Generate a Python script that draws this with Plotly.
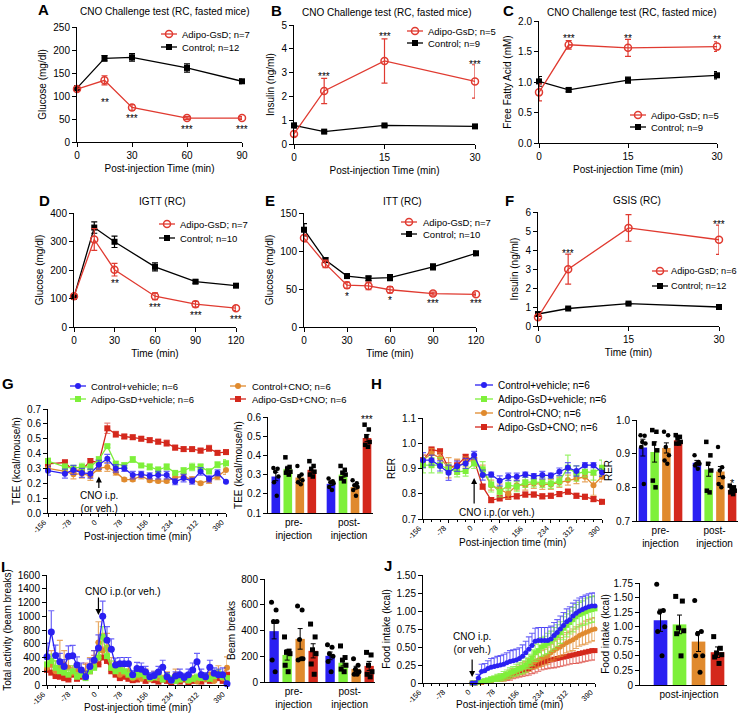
import plotly.graph_objects as go

W, H = 740, 715
FONT = "Liberation Sans, Arial, Helvetica, sans-serif"
PRED = "#e03a30"
C_BLUE = "#2a20f2"
C_GREEN = "#7ef03a"
C_ORANGE = "#e08a2e"
C_RED = "#d4281c"

# ---------------- data ----------------
A_t = [0, 15, 30, 60, 90]
A_gsd = [115, 134, 75, 52, 52]
A_gsd_err = [5, 10, 6, 3, 3]
A_ctl = [117, 182, 184, 161, 132]
A_ctl_err = [5, 6, 8, 9, 5]
A_sig = ["", "**", "***", "***", "***"]
A_sig_y = [0, 93, 57, 34, 34]

B_t = [0, 5, 15, 30]
B_gsd = [0.42, 2.23, 3.49, 2.63]
B_gsd_err = [0.1, 0.53, 0.93, 0.7]
B_ctl = [0.78, 0.52, 0.78, 0.74]
B_ctl_err = [0.1, 0.05, 0.05, 0.05]
B_sig = ["", "***", "***", "***"]
B_sig_y = [0, 2.95, 4.65, 3.46]

C_t = [0, 5, 15, 30]
C_gsd = [0.83, 1.61, 1.56, 1.58]
C_gsd_err = [0.14, 0.07, 0.14, 0.08]
C_ctl = [1.01, 0.87, 1.03, 1.11]
C_ctl_err = [0.08, 0.03, 0.05, 0.06]
C_sig = ["", "***", "**", "**"]
C_sig_y = [0, 1.77, 1.77, 1.74]

D_t = [0, 15, 30, 60, 90, 120]
D_gsd = [108, 307, 201, 108, 80, 66]
D_gsd_err = [8, 38, 22, 12, 10, 8]
D_ctl = [106, 349, 299, 211, 159, 145]
D_ctl_err = [6, 20, 20, 14, 6, 6]
D_sig = ["", "", "**", "***", "***", "***"]
D_sig_y = [0, 0, 162, 79, 51, 38]

E_t = [0, 15, 30, 45, 60, 90, 120]
E_gsd = [117, 83, 55, 54, 49, 44, 43]
E_gsd_err = [5, 5, 4, 5, 4, 2, 2]
E_ctl = [128, 88, 67, 64, 65, 79, 97]
E_ctl_err = [8, 3, 3, 3, 4, 4, 3]
E_sig = ["", "", "*", "", "*", "***", "***"]
E_sig_y = [0, 0, 44, 0, 39, 35, 35]

F_t = [0, 5, 15, 30]
F_gsd = [0.46, 2.99, 5.16, 4.54]
F_gsd_err = [0.1, 0.79, 0.7, 0.77]
F_ctl = [0.63, 0.92, 1.18, 1.0]
F_ctl_err = [0.04, 0.04, 0.04, 0.04]
F_sig = ["", "***", "***", "***"]
F_sig_y = [0, 3.98, 6.04, 5.5]

GROUPS = ["Control+vehicle; n=6", "Adipo-GsD+vehicle; n=6", "Control+CNO; n=6", "Adipo-GsD+CNO; n=6"]

# G: TEE time course
G_t = [-156, -104, -78, -52, -26, 0, 26, 52, 78, 104, 130, 156, 182, 208, 234, 260, 286, 312, 338, 364, 390]
G_blue = [0.285, 0.265, 0.29, 0.27, 0.265, 0.325, 0.365, 0.30, 0.30, 0.255, 0.26, 0.25, 0.255, 0.255, 0.21, 0.235, 0.215, 0.28, 0.23, 0.27, 0.21]
G_green = [0.35, 0.31, 0.30, 0.31, 0.31, 0.36, 0.45, 0.33, 0.32, 0.36, 0.32, 0.31, 0.29, 0.31, 0.27, 0.285, 0.31, 0.31, 0.28, 0.325, 0.335]
G_orange = [0.30, 0.28, 0.26, 0.265, 0.25, 0.30, 0.31, 0.275, 0.225, 0.225, 0.25, 0.22, 0.215, 0.215, 0.24, 0.245, 0.225, 0.20, 0.22, 0.245, 0.29]
G_red = [0.33, 0.34, 0.285, 0.29, 0.35, 0.34, 0.57, 0.53, 0.515, 0.51, 0.50, 0.49, 0.48, 0.47, 0.44, 0.43, 0.43, 0.42, 0.435, 0.405, 0.41]
G_blue_err = [0.03, 0.03, 0.03, 0.03, 0.03, 0.03, 0.03, 0.025, 0.02, 0.025, 0.02, 0.02, 0.025, 0.025, 0.02, 0.025, 0.02, 0.025, 0.02, 0.02, 0.005]
G_green_err = [0.02, 0.02, 0.02, 0.025, 0.02, 0.02, 0.01, 0.02, 0.02, 0.02, 0.01, 0.02, 0.02, 0.02, 0.01, 0.02, 0.025, 0.02, 0.015, 0.02, 0.025]
G_orange_err = [0.02, 0.02, 0.03, 0.03, 0.03, 0.02, 0.03, 0.02, 0.01, 0.01, 0.02, 0.01, 0.01, 0.01, 0.02, 0.02, 0.02, 0.01, 0.02, 0.02, 0.03]
G_red_err = [0.02, 0.02, 0.02, 0.02, 0.015, 0.02, 0.035, 0.02, 0.015, 0.015, 0.015, 0.015, 0.015, 0.02, 0.015, 0.015, 0.012, 0.015, 0.02, 0.015, 0.015]

# G: TEE bars (pre, post) and individual mice
G_bar_pre = [0.29, 0.33, 0.285, 0.325]
G_bar_post = [0.252, 0.30, 0.235, 0.49]
G_bar_pre_err = [0.022, 0.013, 0.014, 0.012]
G_bar_post_err = [0.009, 0.013, 0.011, 0.018]
G_dots_pre = [[0.335, 0.33, 0.315, 0.29, 0.26, 0.19], [0.39, 0.34, 0.33, 0.315, 0.31, 0.30],
              [0.345, 0.30, 0.29, 0.27, 0.26, 0.25], [0.37, 0.345, 0.33, 0.315, 0.30, 0.29]]
G_dots_post = [[0.28, 0.265, 0.26, 0.255, 0.235, 0.22], [0.345, 0.325, 0.31, 0.30, 0.28, 0.265],
               [0.27, 0.255, 0.245, 0.235, 0.22, 0.19], [0.56, 0.535, 0.50, 0.47, 0.455, 0.445]]

# H: RER time course
H_t = [-156, -130, -104, -78, -52, -26, 0, 26, 52, 78, 104, 130, 156, 182, 208, 234, 260, 286, 312, 338, 364, 390]
H_blue = [0.933, 0.933, 0.91, 0.883, 0.909, 0.92, 0.953, 0.874, 0.876, 0.851, 0.867, 0.867, 0.876, 0.87, 0.874, 0.872, 0.887, 0.903, 0.89, 0.913, 0.913, 0.884]
H_green = [0.913, 0.913, 0.913, 0.897, 0.887, 0.89, 0.92, 0.897, 0.837, 0.808, 0.834, 0.828, 0.845, 0.847, 0.845, 0.841, 0.85, 0.903, 0.88, 0.887, 0.884, 0.903]
H_orange = [0.933, 0.959, 0.942, 0.903, 0.907, 0.926, 0.933, 0.893, 0.834, 0.818, 0.801, 0.834, 0.834, 0.841, 0.837, 0.837, 0.845, 0.854, 0.86, 0.867, 0.834, 0.867]
H_red = [0.933, 0.975, 0.968, 0.903, 0.913, 0.946, 0.933, 0.828, 0.775, 0.782, 0.788, 0.79, 0.797, 0.797, 0.79, 0.792, 0.799, 0.808, 0.792, 0.788, 0.779, 0.768]
H_blue_err = [0.03, 0.02, 0.02, 0.03, 0.02, 0.02, 0.015, 0.02, 0.01, 0.02, 0.015, 0.015, 0.01, 0.01, 0.015, 0.01, 0.015, 0.02, 0.02, 0.01, 0.01, 0.015]
H_green_err = [0.03, 0.03, 0.03, 0.02, 0.02, 0.02, 0.02, 0.03, 0.03, 0.02, 0.02, 0.02, 0.02, 0.02, 0.02, 0.02, 0.02, 0.05, 0.03, 0.02, 0.03, 0.03]
H_orange_err = [0.02, 0.02, 0.02, 0.04, 0.03, 0.02, 0.02, 0.02, 0.02, 0.02, 0.02, 0.02, 0.02, 0.02, 0.02, 0.02, 0.02, 0.02, 0.02, 0.02, 0.04, 0.02]
H_red_err = [0.02, 0.01, 0.01, 0.02, 0.02, 0.01, 0.01, 0.01, 0.01, 0.01, 0.01, 0.01, 0.01, 0.01, 0.01, 0.01, 0.01, 0.01, 0.01, 0.01, 0.01, 0.01]

H_bar_pre = [0.918, 0.905, 0.917, 0.94]
H_bar_post = [0.873, 0.853, 0.847, 0.793]
H_bar_pre_err = [0.025, 0.03, 0.015, 0.008]
H_bar_post_err = [0.007, 0.02, 0.015, 0.008]
H_dots_pre = [[0.955, 0.953, 0.935, 0.93, 0.92, 0.81], [0.97, 0.965, 0.93, 0.91, 0.82, 0.80],
              [0.965, 0.955, 0.92, 0.895, 0.88, 0.87], [0.955, 0.95, 0.945, 0.935, 0.93, 0.93]]
H_dots_post = [[0.895, 0.875, 0.87, 0.87, 0.865, 0.855], [0.935, 0.895, 0.87, 0.85, 0.79, 0.785],
               [0.92, 0.86, 0.85, 0.83, 0.81, 0.80], [0.805, 0.80, 0.795, 0.79, 0.785, 0.78]]

# I: activity time course
I_t = [-156, -143, -130, -117, -104, -91, -78, -65, -52, -39, -26, -13, 0, 13, 26, 39, 52, 65, 78, 91, 104,
       117, 130, 143, 156, 169, 182, 195, 208, 221, 234, 247, 260, 273, 286, 299, 312, 325, 338, 351, 364, 377, 390]
I_blue = [410, 770, 430, 340, 270, 420, 425, 290, 220, 120, 270, 360, 540, 1000, 650, 520, 290, 310, 310, 310, 150,
          240, 230, 190, 120, 140, 190, 260, 120, 70, 130, 150, 110, 150, 220, 340, 150, 120, 260, 170, 150, 150, 20]
I_green = [300, 350, 250, 200, 180, 150, 200, 120, 150, 100, 200, 250, 400, 700, 420, 250, 200, 230, 200, 150, 120,
           150, 160, 130, 100, 110, 150, 80, 120, 90, 60, 80, 100, 70, 90, 110, 100, 120, 90, 130, 160, 120, 100]
I_orange = [250, 300, 200, 250, 300, 250, 180, 200, 150, 180, 250, 300, 620, 500, 550, 250, 220, 150, 180, 200, 100,
            120, 90, 150, 80, 130, 100, 90, 120, 60, 150, 80, 100, 60, 90, 50, 100, 80, 150, 60, 180, 100, 250]
I_red = [220, 180, 130, 120, 100, 80, 150, 90, 120, 170, 200, 280, 300, 400, 350, 200, 150, 100, 120, 90, 70,
         80, 100, 60, 90, 70, 50, 80, 60, 40, 70, 50, 80, 40, 60, 70, 50, 90, 60, 80, 100, 60, 150]
I_blue_err = [200, 310, 150, 120, 100, 150, 150, 120, 100, 80, 110, 140, 190, 220, 200, 150, 100, 90, 90, 90, 60,
              90, 90, 80, 60, 60, 80, 100, 60, 40, 60, 80, 60, 80, 100, 120, 80, 60, 100, 80, 80, 100, 20]
I_green_err = [120, 100, 100, 80, 80, 70, 80, 60, 70, 50, 80, 100, 150, 150, 150, 100, 90, 90, 80, 70, 60,
               60, 60, 50, 50, 50, 60, 40, 50, 40, 30, 40, 40, 30, 40, 50, 40, 50, 40, 50, 60, 50, 40]
I_orange_err = [150, 200, 150, 400, 200, 150, 100, 120, 100, 120, 150, 200, 300, 250, 200, 150, 120, 100, 100, 120, 60,
                80, 60, 80, 50, 70, 60, 50, 70, 40, 80, 50, 60, 40, 50, 30, 60, 50, 80, 40, 100, 60, 160]
I_red_err = [100, 80, 60, 60, 50, 40, 100, 50, 60, 150, 100, 150, 200, 150, 150, 100, 80, 60, 60, 50, 40,
             40, 50, 30, 50, 40, 30, 40, 30, 20, 40, 30, 40, 20, 30, 40, 30, 40, 30, 40, 50, 30, 60]

I_bar_pre = [395, 210, 335, 242]
I_bar_post = [203, 150, 102, 125]
I_bar_pre_err = [60, 40, 80, 55]
I_bar_post_err = [30, 25, 20, 35]
I_dots_pre = [[620, 560, 470, 470, 170, 80], [350, 240, 230, 220, 130, 80],
              [590, 560, 330, 180, 170, 180], [450, 350, 250, 220, 140, 60]]
I_dots_post = [[290, 270, 220, 200, 160, 80], [280, 190, 170, 130, 100, 80],
               [180, 130, 100, 80, 60, 60], [230, 210, 130, 80, 60, 40]]

# J: cumulative food intake
J_t = [0, 10, 20, 30, 40, 50, 60, 70, 80, 90, 100, 110, 120, 130, 140, 150, 160, 170, 180, 190,
       200, 210, 220, 230, 240, 250, 260, 270, 280, 290, 300, 310, 320, 330, 340, 350, 360, 370, 380, 390]
J_blue = [0, 0, 0.07, 0.16, 0.17, 0.2, 0.22, 0.23, 0.24, 0.25, 0.26, 0.28, 0.3, 0.31, 0.32, 0.34, 0.37, 0.42, 0.47, 0.52,
          0.58, 0.59, 0.59, 0.59, 0.59, 0.61, 0.66, 0.7, 0.75, 0.8, 0.85, 0.88, 0.93, 0.97, 1.0, 1.02, 1.04, 1.06, 1.07, 1.07]
J_green = [0, 0, 0.01, 0.02, 0.03, 0.04, 0.05, 0.06, 0.07, 0.08, 0.1, 0.12, 0.14, 0.16, 0.18, 0.2, 0.22, 0.25, 0.3, 0.35,
           0.42, 0.45, 0.5, 0.52, 0.55, 0.58, 0.62, 0.66, 0.7, 0.76, 0.8, 0.84, 0.88, 0.92, 0.95, 0.97, 0.99, 1.01, 1.02, 1.03]
J_orange = [0, 0, 0.01, 0.01, 0.02, 0.03, 0.04, 0.05, 0.06, 0.07, 0.08, 0.1, 0.12, 0.14, 0.16, 0.18, 0.2, 0.22, 0.25, 0.28,
            0.3, 0.32, 0.34, 0.36, 0.38, 0.42, 0.45, 0.48, 0.5, 0.53, 0.56, 0.58, 0.6, 0.63, 0.66, 0.68, 0.7, 0.72, 0.74, 0.75]
J_red = [0, 0, 0.01, 0.01, 0.02, 0.03, 0.04, 0.05, 0.06, 0.07, 0.08, 0.09, 0.1, 0.12, 0.14, 0.15, 0.17, 0.18, 0.2, 0.22,
         0.24, 0.26, 0.28, 0.3, 0.31, 0.32, 0.33, 0.34, 0.35, 0.36, 0.37, 0.38, 0.39, 0.4, 0.41, 0.42, 0.43, 0.44, 0.45, 0.45]
J_blue_err = [0, 0.02, 0.05, 0.1, 0.1, 0.11, 0.12, 0.12, 0.13, 0.13, 0.14, 0.14, 0.15, 0.15, 0.15, 0.15, 0.16, 0.16, 0.17, 0.17,
              0.18, 0.18, 0.18, 0.18, 0.18, 0.18, 0.18, 0.18, 0.18, 0.18, 0.18, 0.18, 0.18, 0.18, 0.18, 0.18, 0.18, 0.18, 0.18, 0.18]
J_green_err = [0, 0, 0.01, 0.02, 0.03, 0.03, 0.04, 0.04, 0.05, 0.05, 0.06, 0.06, 0.07, 0.07, 0.08, 0.08, 0.09, 0.1, 0.1, 0.11,
               0.12, 0.12, 0.13, 0.13, 0.14, 0.14, 0.15, 0.15, 0.15, 0.16, 0.16, 0.16, 0.17, 0.17, 0.17, 0.17, 0.18, 0.18, 0.18, 0.18]
J_orange_err = [0, 0, 0.01, 0.01, 0.02, 0.02, 0.03, 0.03, 0.04, 0.04, 0.05, 0.05, 0.06, 0.06, 0.07, 0.07, 0.08, 0.08, 0.09, 0.09,
                0.1, 0.1, 0.11, 0.11, 0.12, 0.12, 0.13, 0.13, 0.13, 0.14, 0.14, 0.14, 0.15, 0.15, 0.15, 0.15, 0.16, 0.16, 0.16, 0.16]
J_red_err = [0, 0, 0.01, 0.01, 0.02, 0.02, 0.03, 0.03, 0.04, 0.04, 0.05, 0.05, 0.06, 0.06, 0.07, 0.07, 0.08, 0.08, 0.09, 0.09,
             0.1, 0.1, 0.1, 0.11, 0.11, 0.11, 0.12, 0.12, 0.12, 0.12, 0.12, 0.12, 0.12, 0.13, 0.13, 0.13, 0.13, 0.13, 0.13, 0.13]

J_bar = [1.11, 1.04, 0.745, 0.563]
J_bar_err = [0.19, 0.16, 0.17, 0.09]
J_dots = [[1.73, 1.28, 1.25, 1.0, 0.92, 0.5], [1.52, 1.44, 0.98, 0.93, 0.88, 0.5],
          [1.45, 0.92, 0.88, 0.5, 0.5, 0.22], [0.83, 0.63, 0.55, 0.52, 0.48, 0.37]]

TIME_TICKS = [-156, -78, 0, 78, 156, 234, 312, 390]

# ---------------- layout helpers ----------------
BOXES = {1: (77, 242, 27, 142), 2: (294, 475, 25, 144), 3: (539, 717, 21, 143),
         4: (74, 236, 213, 327), 5: (304, 476, 213, 327), 6: (538, 719, 212, 326),
         7: (48, 226, 409, 513), 8: (268, 373, 417, 513), 9: (423, 602, 418, 519), 10: (637, 738, 420, 521),
         11: (47, 227, 575, 685), 12: (265, 375, 579, 682), 13: (423, 595, 575, 683), 14: (640, 727, 583, 685)}

fig = go.Figure()
layout = {}
annotations = []
PX = 15  # pixel overlay axis index
TS = 10  # tick font size
TT = 10  # axis title font size


def sfx(i):
    return "" if i == 1 else str(i)


def axstyle(tsize=TS):
    return dict(showline=True, linecolor="black", linewidth=1, ticks="outside", ticklen=4, tickwidth=1,
                tickcolor="black", showgrid=False, zeroline=False, automargin=False,
                tickfont=dict(size=tsize, color="black", family=FONT),
                title_font=dict(size=TT, color="black", family=FONT))


def setup(i, xr, yr, xkw, ykw):
    x0, x1, yt, yb = BOXES[i]
    xa = axstyle()
    xa.update(domain=[x0 / W, x1 / W], range=xr, anchor="y" + sfx(i))
    xa.update(xkw)
    ya = axstyle()
    ya.update(domain=[1 - yb / H, 1 - yt / H], range=yr, anchor="x" + sfx(i), title_standoff=4)
    ya.update(ykw)
    layout["xaxis" + sfx(i)] = xa
    layout["yaxis" + sfx(i)] = ya


def series(i, x, y, err, color, symbol, size, errcolor=None, lw=1.3, mode="both", ethick=1.2, ewidth=3):
    e = dict(type="data", array=err, color=errcolor or color, thickness=ethick, width=ewidth, visible=True)
    if mode == "plus":
        e.update(symmetric=False, arrayminus=[0] * len(err))
    elif mode == "minus":
        e.update(symmetric=False, array=[0] * len(err), arrayminus=err)
    fig.add_trace(go.Scatter(x=x, y=y, mode="lines+markers", xaxis="x" + sfx(i), yaxis="y" + sfx(i),
                             line=dict(color=color, width=lw),
                             marker=dict(symbol=symbol, size=size, color=color,
                                         line=dict(color=color, width=1.5 if "open" in symbol else 0)),
                             error_y=e, cliponaxis=False, showlegend=False, hoverinfo="skip"))


def stars(i, x, labels, ys):
    for xx, lab, yy in zip(x, labels, ys):
        if lab:
            annotations.append(dict(xref="x" + sfx(i), yref="y" + sfx(i), x=xx, y=yy, text=lab, showarrow=False,
                                    font=dict(size=10, color="black", family=FONT), yshift=-3))


def ptext(x, y, text, size=10, xanchor="center", bold=False, yanchor="middle"):
    annotations.append(dict(xref="x%d" % PX, yref="y%d" % PX, x=x, y=y, text=("<b>%s</b>" % text) if bold else text,
                            showarrow=False, xanchor=xanchor, yanchor=yanchor,
                            font=dict(size=size, color="black", family=FONT)))


def legend_item(x, y, text, color, symbol, msize=7, tsize=10, half=9, tx=None):
    fig.add_trace(go.Scatter(x=[x - half, x + half], y=[y, y], mode="lines", xaxis="x%d" % PX, yaxis="y%d" % PX,
                             line=dict(color=color, width=1.3), showlegend=False, hoverinfo="skip",
                             cliponaxis=False))
    fig.add_trace(go.Scatter(x=[x], y=[y], mode="markers", xaxis="x%d" % PX, yaxis="y%d" % PX,
                             marker=dict(symbol=symbol, size=msize, color=color,
                                         line=dict(color=color, width=1.5 if "open" in symbol else 0)),
                             showlegend=False, hoverinfo="skip", cliponaxis=False))
    ptext(tx if tx is not None else x + half + 3, y, text, size=tsize, xanchor="left")


# ---------------- panels A-F ----------------
def simple_panel(i, t, gsd, gsd_err, ctl, ctl_err, sig, sig_y, xr, yr, xt, yt, xtitle, ytitle, yfmt=None):
    ykw = dict(tickvals=yt, title_text=ytitle)
    if yfmt:
        ykw["tickformat"] = yfmt
    setup(i, xr, yr, dict(tickvals=xt, title_text=xtitle, title_standoff=4), ykw)
    series(i, t, ctl, ctl_err, "black", "square", 6)
    series(i, t, gsd, gsd_err, PRED, "circle-open", 7)
    stars(i, t, sig, sig_y)


TITLE_CNO = "CNO Challenge test (RC, fasted mice)"
simple_panel(1, A_t, A_gsd, A_gsd_err, A_ctl, A_ctl_err, A_sig, A_sig_y, [0, 90], [0, 250],
             [0, 30, 60, 90], [0, 50, 100, 150, 200, 250], "Post-injection Time (min)", "Glucose (mg/dl)")
simple_panel(2, B_t, B_gsd, B_gsd_err, B_ctl, B_ctl_err, B_sig, B_sig_y, [0, 30], [0, 5],
             [0, 15, 30], [0, 1, 2, 3, 4, 5], "Post-injection Time (min)", "Insulin (ng/ml)")
simple_panel(3, C_t, C_gsd, C_gsd_err, C_ctl, C_ctl_err, C_sig, C_sig_y, [0, 30], [0, 2],
             [0, 15, 30], [0, 0.5, 1.0, 1.5, 2.0], "Post-injection Time (min)", "Free Fatty Acid (mM)", ".1f")
simple_panel(4, D_t, D_gsd, D_gsd_err, D_ctl, D_ctl_err, D_sig, D_sig_y, [0, 120], [0, 400],
             [0, 30, 60, 90, 120], [0, 100, 200, 300, 400], "Time (min)", "Glucose (mg/dl)")
simple_panel(5, E_t, E_gsd, E_gsd_err, E_ctl, E_ctl_err, E_sig, E_sig_y, [0, 120], [0, 150],
             [0, 30, 60, 90, 120], [0, 50, 100, 150], "Time (min)", "Glucose (mg/dl)")
simple_panel(6, F_t, F_gsd, F_gsd_err, F_ctl, F_ctl_err, F_sig, F_sig_y, [0, 30], [0, 6],
             [0, 15, 30], [0, 1, 2, 3, 4, 5, 6], "Time (min)", "Insulin (ng/ml)")

ptext(165, 11, TITLE_CNO, size=10)
ptext(387, 12, TITLE_CNO, size=10)
ptext(632, 12, TITLE_CNO, size=10)
ptext(162, 201, "IGTT (RC)", size=10)
ptext(402, 201, "ITT (RC)", size=10)
ptext(637, 200, "GSIS (RC)", size=10)

for (lx, ly, tx, t1, t2, dy, fs) in [(169, 34, 180, "Adipo-GsD; n=7", "Control; n=12", 13, 9.5),
                                     (415, 31, 426, "Adipo-GsD; n=5", "Control; n=9", 12, 9.5),
                                     (638, 115, 649, "Adipo-GsD; n=5", "Control; n=9", 12, 9.5),
                                     (167, 224, 178, "Adipo-GsD; n=7", "Control; n=10", 14, 9.5),
                                     (409, 222, 421, "Adipo-GsD; n=7", "Control; n=10", 12, 9.5),
                                     (660, 271, 669, "Adipo-GsD; n=6", "Control; n=12", 15, 9.2)]:
    legend_item(lx, ly, t1, PRED, "circle-open", 7, fs, 8, tx)
    legend_item(lx, ly + dy, t2, "black", "square", 6, fs, 8, tx)

# ---------------- time-course panels ----------------
COLORS = [C_BLUE, C_GREEN, C_ORANGE, C_RED]
SYMS = ["circle", "square", "circle", "square"]
ERRC = ["rgba(60,50,245,0.75)", "rgba(130,240,70,0.8)", "rgba(225,140,50,0.75)", "rgba(215,50,40,0.6)"]
DRAW_ORDER = [3, 2, 1, 0]


def time_axes(i, yr, yt, yfmt, ytitle, title_y, ttext=None):
    ykw = dict(tickvals=yt, tickformat=yfmt, title_text=ytitle)
    if ttext:
        ykw["ticktext"] = ttext
    setup(i, [-156, 390], yr,
          dict(tickvals=TIME_TICKS, showticklabels=False, ticklen=3,
               minor=dict(tickvals=list(range(-156, 391, 26)), ticks="outside", ticklen=2, tickcolor="black")),
          ykw)
    x0, x1, _, yb = BOXES[i]
    # angled tick labels, ending at their tick
    for v in TIME_TICKS:
        annotations.append(dict(xref="x" + sfx(i), yref="y%d" % PX, x=v, y=yb + 2, text=str(v), textangle=-45,
                                showarrow=False, xanchor="right", yanchor="top", xshift=3,
                                font=dict(size=7.5, color="black", family=FONT)))
    ptext((x0 + x1) / 2, title_y, "Post-injection time (min)", size=10)


time_axes(7, [0, 0.7], [0, 0.1, 0.2, 0.3, 0.4, 0.5, 0.6, 0.7], ".1f", "TEE (kcal/mouse/h)", 536)
for k, (yv, ev) in zip(DRAW_ORDER, [(G_red, G_red_err), (G_orange, G_orange_err), (G_green, G_green_err), (G_blue, G_blue_err)]):
    series(7, G_t, yv, ev, COLORS[k], SYMS[k], 6, ERRC[k], lw=1.3, ethick=1.2, ewidth=3)

time_axes(9, [0.7, 1.1], [0.7, 0.8, 0.9, 1.0, 1.1], ".1f", "RER", 542)
for k, (yv, ev) in zip(DRAW_ORDER, [(H_red, H_red_err), (H_orange, H_orange_err), (H_green, H_green_err), (H_blue, H_blue_err)]):
    series(9, H_t, yv, ev, COLORS[k], SYMS[k], 6, ERRC[k], lw=1.3, ethick=1.2, ewidth=3)

time_axes(11, [0, 1600], list(range(0, 1601, 200)), "d", "Total activity (beam breaks)", 707)
for k, (yv, ev) in zip(DRAW_ORDER, [(I_red, I_red_err), (I_orange, I_orange_err), (I_green, I_green_err), (I_blue, I_blue_err)]):
    series(11, I_t, yv, ev, COLORS[k], SYMS[k], 6 if k else 7, ERRC[k], lw=1.3, mode="plus", ethick=1.2, ewidth=3)

time_axes(13, [0, 1.5], [0, 0.25, 0.5, 0.75, 1.0, 1.25, 1.5], ".2f", "Food intake (kcal)", 704,
          ["0", "0.25", "0.50", "0.75", "1.00", "1.25", "1.50"])
J_modes = ["plus", "both", "both", "minus"]
for k, (yv, ev) in zip(DRAW_ORDER, [(J_red, J_red_err), (J_orange, J_orange_err), (J_green, J_green_err), (J_blue, J_blue_err)]):
    series(13, J_t, yv, ev, COLORS[k], SYMS[k], 5, ERRC[k], lw=1.3, mode=J_modes[k], ethick=1.1, ewidth=3)

# ---------------- bar panels ----------------
JIT = [-0.2, 0.15, -0.05, 0.22, -0.15, 0.08]


def bar_panel(i, pos_groups, means_groups, err_groups, dots_groups, msize=5):
    for k in range(4):
        xs = [pg[k] for pg in pos_groups]
        ys = [mg[k] for mg in means_groups]
        es = [eg[k] for eg in err_groups]
        fig.add_trace(go.Bar(x=xs, y=ys, width=0.72, marker=dict(color=COLORS[k], line=dict(width=0)),
                             error_y=dict(type="data", array=es, color="black", thickness=1, width=2.5),
                             xaxis="x" + sfx(i), yaxis="y" + sfx(i), showlegend=False, hoverinfo="skip"))
        for pg, dg in zip(pos_groups, dots_groups):
            fig.add_trace(go.Scatter(x=[pg[k] + JIT[j % 6] for j in range(len(dg[k]))], y=dg[k], mode="markers",
                                     marker=dict(symbol=SYMS[k], size=msize, color="black"),
                                     xaxis="x" + sfx(i), yaxis="y" + sfx(i), showlegend=False, hoverinfo="skip",
                                     cliponaxis=False))


POS_PRE = [1, 2, 3, 4]
POS_POST = [5.6, 6.6, 7.6, 8.6]
GROUP_TXT = ["pre-<br>injection", "post-<br>injection"]
XBAR = dict(ticks="", tickfont=dict(size=10, color="black", family=FONT))

setup(8, [0.35, 9.1], [0.1, 0.6], dict(tickvals=[2.5, 7.1], ticktext=GROUP_TXT, **XBAR),
      dict(tickvals=[0.1, 0.2, 0.3, 0.4, 0.5, 0.6], tickformat=".1f", title_text="TEE (kcal/mouse/h)",
           title_standoff=2))
bar_panel(8, [POS_PRE, POS_POST], [G_bar_pre, G_bar_post], [G_bar_pre_err, G_bar_post_err], [G_dots_pre, G_dots_post], 4.5)
annotations.append(dict(xref="x8", yref="y8", x=POS_POST[3], y=0.6, text="***", showarrow=False,
                        font=dict(size=10, family=FONT, color="black"), yshift=-3))

setup(10, [0.5, 9.1], [0.7, 1.0], dict(tickvals=[2.5, 7.1], ticktext=GROUP_TXT, **XBAR),
      dict(tickvals=[0.7, 0.8, 0.9, 1.0], tickformat=".1f", title_text="RER", title_standoff=1))
bar_panel(10, [POS_PRE, POS_POST], [H_bar_pre, H_bar_post], [H_bar_pre_err, H_bar_post_err], [H_dots_pre, H_dots_post], 4.5)
annotations.append(dict(xref="x10", yref="y10", x=POS_POST[3], y=0.823, text="*", showarrow=False,
                        font=dict(size=11, family=FONT, color="black"), yshift=-3))

POS_POST_I = [5.3, 6.3, 7.3, 8.3]
setup(12, [0.3, 8.75], [0, 800], dict(tickvals=[2.5, 6.8], ticktext=GROUP_TXT, **XBAR),
      dict(tickvals=[0, 200, 400, 600, 800], title_text="Beam breaks", title_standoff=3))
bar_panel(12, [POS_PRE, POS_POST_I], [I_bar_pre, I_bar_post], [I_bar_pre_err, I_bar_post_err], [I_dots_pre, I_dots_post], 5)

setup(14, [-0.08, 4.5], [0, 1.75], dict(tickvals=[2.5], ticktext=["post-injection"], **XBAR),
      dict(tickvals=[0, 0.25, 0.5, 0.75, 1.0, 1.25, 1.5, 1.75],
           ticktext=["0", "0.25", "0.50", "0.75", "1.00", "1.25", "1.50", "1.75"],
           title_text="Food intake (kcal)", title_standoff=2))
bar_panel(14, [POS_PRE], [J_bar], [J_bar_err], [J_dots], 5)

# ---------------- arrows / CNO labels ----------------
ARROW = dict(showarrow=True, arrowhead=2, arrowsize=1, arrowwidth=1.2, arrowcolor="black", text="")
annotations.append(dict(xref="x7", yref="y7", x=0, y=0.245, ax=0, ay=13, **ARROW))
annotations.append(dict(xref="x7", yref="y7", x=0, y=0.165, text="CNO i.p.<br>(or veh.)", showarrow=False,
                        yanchor="top", font=dict(size=10, color="black", family=FONT)))
annotations.append(dict(xref="x9", yref="y9", x=0, y=0.862, ax=0, ay=27, **ARROW))
ptext(497, 512, "CNO i.p.(or veh.)", size=10)
annotations.append(dict(xref="x11", yref="y11", x=0, y=1020, ax=0, ay=-19, **ARROW))
ptext(123, 591, "CNO i.p.(or veh.)", size=10)
annotations.append(dict(xref="x13", yref="y13", x=0, y=0.085, ax=0, ay=-19, **ARROW))
ptext(472, 643, "CNO i.p.<br>(or veh.)", size=10)

# ---------------- legends for G and H ----------------
legend_item(78, 386, GROUPS[0], C_BLUE, "circle", 6, 9.5, 8, 89)
legend_item(78, 399, GROUPS[1], C_GREEN, "square", 6, 9.5, 8, 89)
legend_item(238, 386, GROUPS[2], C_ORANGE, "circle", 6, 9.5, 8, 250)
legend_item(238, 399, GROUPS[3], C_RED, "square", 6, 9.5, 8, 250)
for n, yy in enumerate([385, 399, 413, 427]):
    legend_item(484, yy, GROUPS[n], COLORS[n], SYMS[n], 6, 10, 9, 496)

# ---------------- panel letters ----------------
for L, x, y in [("A", 43, 9), ("B", 276, 10), ("C", 508, 10), ("D", 44, 200), ("E", 270, 200), ("F", 509, 200),
                ("G", 8, 383), ("H", 376, 383), ("I", 3, 566), ("J", 388, 565)]:
    ptext(x, y, L, size=15, bold=True)

layout["xaxis%d" % PX] = dict(domain=[0, 1], range=[0, W], visible=False, fixedrange=True, anchor="y%d" % PX,
                              automargin=False)
layout["yaxis%d" % PX] = dict(domain=[0, 1], range=[H, 0], visible=False, fixedrange=True, anchor="x%d" % PX,
                              automargin=False)

fig.update_layout(width=W, height=H, margin=dict(l=0, r=0, t=0, b=0, autoexpand=False), paper_bgcolor="white",
                  plot_bgcolor="rgba(0,0,0,0)", barmode="overlay", showlegend=False,
                  font=dict(family=FONT, color="black", size=10), annotations=annotations, **layout)
fig.write_html("out.html", config={"displayModeBar": False, "staticPlot": True},
               post_script="document.body.style.margin='0px';document.body.style.overflow='hidden';")
